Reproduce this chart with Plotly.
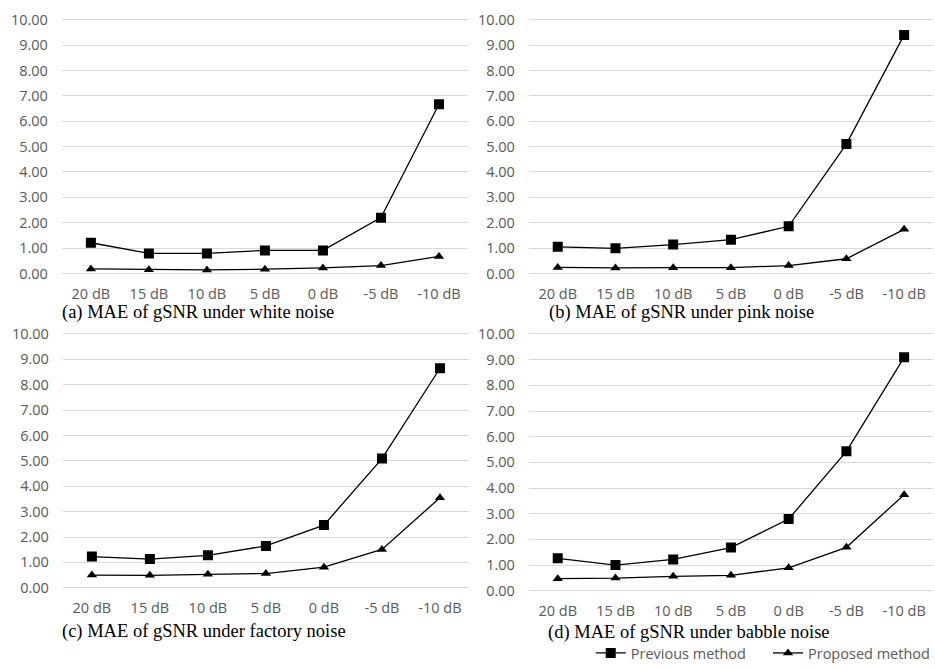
import plotly.graph_objects as go

categories = ["20 dB", "15 dB", "10 dB", "5 dB", "0 dB", "-5 dB", "-10 dB"]
y_ticks = [0, 1, 2, 3, 4, 5, 6, 7, 8, 9, 10]

white_prev = [1.21, 0.79, 0.79, 0.91, 0.91, 2.20, 6.67]
white_prop = [0.18, 0.15, 0.14, 0.17, 0.22, 0.31, 0.67]
pink_prev = [1.05, 0.99, 1.14, 1.33, 1.86, 5.10, 9.40]
pink_prop = [0.24, 0.22, 0.23, 0.23, 0.31, 0.58, 1.74]
factory_prev = [1.23, 1.13, 1.28, 1.65, 2.47, 5.09, 8.65]
factory_prop = [0.50, 0.49, 0.53, 0.56, 0.81, 1.51, 3.55]
babble_prev = [1.26, 1.00, 1.22, 1.68, 2.79, 5.43, 9.09]
babble_prop = [0.47, 0.49, 0.56, 0.60, 0.89, 1.69, 3.74]

captions = ["(a) MAE of gSNR under white noise", "(b) MAE of gSNR under pink noise",
            "(c) MAE of gSNR under factory noise", "(d) MAE of gSNR under babble noise"]
series_names = ["Previous method", "Proposed method"]

W, H = 935, 669
# panel pixel geometry: x0, x1, y(0), y(10)
panels = [
    (62, 469, 273, 13),
    (530, 935, 273, 13),
    (63, 470, 595, 335),
    (530, 935, 598, 335),
]
caption_pos = [(60, 313), (548, 313), (60, 640), (547, 641)]
data = [(white_prev, white_prop), (pink_prev, pink_prop),
        (factory_prev, factory_prop), (babble_prev, babble_prop)]

fig = go.Figure()
gray = "#595959"
tickfont = dict(family="Open Sans", size=14.5, color=gray)
pad = 0.1
for i, ((x0, x1, y0, y10), (prev, prop)) in enumerate(zip(panels, data)):
    s = (y0 - y10) / 10.0
    top = y10 - pad * s
    bot = y0 + pad * s
    n = "" if i == 0 else str(i + 1)
    xa = "x" + n
    ya = "y" + n
    fig.add_trace(go.Scatter(x=categories, y=prev, xaxis=xa, yaxis=ya, mode="lines+markers",
                             name=series_names[0], legend="legend", showlegend=(i == 3),
                             line=dict(color="black", width=1.3),
                             marker=dict(symbol="square", size=10, color="black")))
    fig.add_trace(go.Scatter(x=categories, y=prop, xaxis=xa, yaxis=ya, mode="lines+markers",
                             name=series_names[1], legend="legend2", showlegend=(i == 3),
                             line=dict(color="black", width=1.3),
                             marker=dict(symbol="triangle-up", size=9, color="black")))
    fig.update_layout({
        "xaxis" + n: dict(domain=[x0 / W, min(x1 / W, 1)], type="category", range=[-0.5, 6.5],
                          showgrid=False, showline=False, zeroline=False, ticks="",
                          tickfont=tickfont, ticklabelstandoff=7, anchor=ya, fixedrange=True),
        "yaxis" + n: dict(domain=[1 - bot / H, 1 - top / H], range=[-pad, 10 + pad],
                          tickvals=y_ticks, tickformat=".2f", showgrid=True,
                          gridcolor="#d9d9d9", gridwidth=1, zeroline=False, showline=False,
                          ticks="", tickfont=tickfont, ticklabelstandoff=13, anchor=xa,
                          fixedrange=True),
    })
    cx, cy = caption_pos[i]
    fig.add_annotation(text=captions[i], x=cx / W, y=1 - cy / H, xref="paper", yref="paper",
                       xanchor="left", yanchor="middle", showarrow=False,
                       font=dict(family="Liberation Serif", size=18.5, color="black"))

legfont = dict(family="Open Sans", size=14.5, color=gray)
fig.update_layout(
    width=W, height=H, margin=dict(l=0, r=0, t=0, b=0),
    paper_bgcolor="white", plot_bgcolor="white",
    legend=dict(orientation="h", x=(596 - 4) / W, xanchor="left", y=1 - 662 / H, yanchor="middle",
                font=legfont, bgcolor="rgba(0,0,0,0)", itemwidth=30),
    legend2=dict(orientation="h", x=(774 - 4) / W, xanchor="left", y=1 - 662 / H, yanchor="middle",
                 font=legfont, bgcolor="rgba(0,0,0,0)", itemwidth=30),
)

fig.write_html("out.html")
